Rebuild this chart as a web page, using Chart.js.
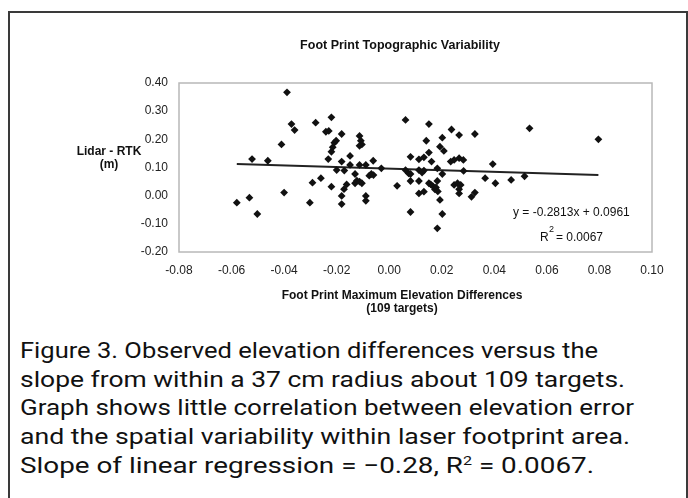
<!DOCTYPE html>
<html>
<head>
<meta charset="utf-8">
<script src="https://cdn.jsdelivr.net/npm/chart.js@4.4.0/dist/chart.umd.min.js"></script>
<style>
  html, body { margin: 0; padding: 0; background: #fff; }
  body { width: 688px; height: 498px; position: relative; overflow: hidden; }
  #frame { position: absolute; left: 8px; top: 11px; width: 676px; height: 500px; z-index: 5; pointer-events: none;
           border-left: 2px solid #3a3a3a; border-top: 2px solid #3a3a3a; border-right: 2px solid #3a3a3a; }
  #wrap { position: absolute; left: 0; top: 0; width: 688px; height: 330px; }
  #caption { position: absolute; left: 20px; top: 336px; font-family: "Liberation Sans Narrow", "Roboto", "Liberation Sans", sans-serif;
             font-size: 22.5px; color: #111; line-height: 28.7px; }
  #caption div { white-space: nowrap; transform-origin: 0 50%; display: block; width: max-content; }
</style>
</head>
<body>
<div id="frame"></div>
<div id="wrap"><canvas id="c" width="688" height="330"></canvas></div>
<div id="caption">
  <div>Figure 3. Observed elevation differences versus the</div>
  <div>slope from within a 37 cm radius about 109 targets.</div>
  <div>Graph shows little correlation between elevation error</div>
  <div>and the spatial variability within laser footprint area.</div>
  <div>Slope of linear regression = &minus;0.28, R<sup style="font-size:13px;line-height:0">2</sup> = 0.0067.</div>
</div>
<script>
// ---- data ----
const xValues = [
  -0.0580, -0.0532, -0.0502, -0.0522, -0.0462, -0.0410, -0.0400, -0.0389, -0.0372, -0.0360,
  -0.0302, -0.0292, -0.0280, -0.0260, -0.0241, -0.0230, -0.0232, -0.0220, -0.0220, -0.0220,
  -0.0215, -0.0209, -0.0202, -0.0200, -0.0181, -0.0181, -0.0181, -0.0181, -0.0172, -0.0171,
  -0.0162, -0.0149, -0.0149, -0.0130, -0.0130, -0.0123, -0.0113, -0.0104, -0.0113, -0.0108,
  -0.0104, -0.0113, -0.0113, -0.0089, -0.0089, -0.0089, -0.0076, -0.0068, -0.0060, -0.0061,
  -0.0030,
   0.0030,  0.0062,  0.0062,  0.0074,  0.0081,  0.0081,  0.0081,  0.0081,  0.0113,  0.0132,
   0.0151,  0.0113,  0.0132,  0.0125,  0.0113,  0.0113,  0.0132,  0.0151,  0.0158,  0.0166,
   0.0174,  0.0178,  0.0185,  0.0183,  0.0151,  0.0141,  0.0202,  0.0193,  0.0208,  0.0161,
   0.0183,  0.0202,  0.0193,  0.0202,  0.0183,  0.0237,  0.0266,  0.0326,  0.0534,  0.0796,
   0.0234,  0.0247,  0.0266,  0.0282,  0.0394,  0.0283,  0.0247,  0.0260,  0.0272,  0.0266,
   0.0266,  0.0326,  0.0313,  0.0365,  0.0404,  0.0464,  0.0515
];
const yValues = [
  -0.025, -0.007, -0.065,  0.130,  0.124,  0.182,  0.011,  0.367,  0.254,  0.233,
  -0.025,  0.046,  0.259,  0.062,  0.227,  0.230,  0.130,  0.278,  0.032,  0.156,
   0.172,  0.188,  0.195,  0.091,  0.219,  0.121, -0.001, -0.030,  0.023,  0.089,
   0.040,  0.141,  0.109,  0.077,  0.044,  0.053,  0.050,  0.044,  0.212,  0.195,
   0.182,  0.177,  0.109,  0.109, -0.001, -0.018,  0.071,  0.077,  0.073,  0.124,
   0.097,
   0.035,  0.269,  0.091,  0.079,  0.077,  0.138,  0.052, -0.058,  0.129,  0.136,
   0.153,  0.091,  0.089,  0.082,  0.052,  0.008,  0.014,  0.044,  0.040,  0.034,
   0.022,  0.029,  0.015,  0.052,  0.254,  0.195,  0.206,  0.174,  0.159,  0.121,
   0.097,  0.077, -0.015, -0.065, -0.116,  0.235,  0.215,  0.219,  0.239,  0.200,
   0.121,  0.127,  0.133,  0.127,  0.112,  0.088,  0.038,  0.044,  0.038,  0.023,
   0.008,  0.011, -0.004,  0.062,  0.044,  0.056,  0.069
];
const trendSlope = -0.2813;
const trendIntercept = 0.0961;
const rSquared = 0.0067;
const xTickRange = [-0.08, 0.10, 0.02];
const yTickRange = [-0.20, 0.40, 0.10];
const chartTitle = "Foot Print Topographic Variability";
const yTitle = ["Lidar - RTK", "(m)"];
const xTitle = ["Foot Print Maximum Elevation Differences", "(109 targets)"];

// ---- build datasets ----
const points = xValues.map((x, i) => ({ x: x, y: yValues[i] }));
const xMin = Math.min(...xValues), xMax = Math.max(...xValues);
const trend = [xMin, xMax].map(x => ({ x: x, y: trendSlope * x + trendIntercept }));

const FONT = '"Liberation Sans", Arial, sans-serif';

const decor = {
  id: 'decor',
  afterDraw(chart) {
    const ctx = chart.ctx, a = chart.chartArea;
    ctx.save();
    ctx.strokeStyle = '#b8b8b8';
    ctx.lineWidth = 1.5;
    ctx.strokeRect(a.left, a.top, a.right - a.left, a.bottom - a.top);
    ctx.fillStyle = '#111';
    ctx.textAlign = 'center';
    ctx.textBaseline = 'middle';
    ctx.font = 'bold 12.5px ' + FONT;
    ctx.fillText(chartTitle, 400, 46);
    ctx.font = 'bold 12px ' + FONT;
    ctx.fillText(yTitle[0], 109, 152);
    ctx.fillText(yTitle[1], 109, 165);
    ctx.fillText(xTitle[0], 402, 296);
    ctx.fillText(xTitle[1], 402, 309);
    ctx.font = '12px ' + FONT;
    ctx.textAlign = 'left';
    ctx.fillText('y = ' + trendSlope + 'x + ' + trendIntercept, 513, 213);
    ctx.fillText('R', 540, 238);
    ctx.fillText('= ' + rSquared.toFixed(4), 556, 238);
    ctx.font = '9px ' + FONT;
    ctx.fillText('2', 549, 230);
    ctx.restore();
  }
};

new Chart(document.getElementById('c'), {
  type: 'scatter',
  data: {
    datasets: [
      { data: points, backgroundColor: '#111', borderColor: '#111', pointStyle: 'rectRot',
        pointRadius: 3.9, borderWidth: 0, order: 1 },
      { type: 'line', data: trend, borderColor: '#222', borderWidth: 2, pointRadius: 0,
        fill: false, order: 2 }
    ]
  },
  options: {
    responsive: false,
    devicePixelRatio: 1,
    animation: false,
    layout: { padding: { left: 0, right: 36, top: 83, bottom: 38 } },
    plugins: { legend: { display: false }, tooltip: { enabled: false }, title: { display: false } },
    scales: {
      x: {
        type: 'linear', min: xTickRange[0], max: xTickRange[1],
        grid: { display: false, drawTicks: false }, border: { display: false },
        ticks: { stepSize: xTickRange[2], padding: 11, color: '#222', maxRotation: 0,
                 font: { family: FONT, size: 12 },
                 callback: v => v.toFixed(2) },
        afterFit: s => { s.height = 40; }
      },
      y: {
        type: 'linear', min: yTickRange[0], max: yTickRange[1],
        grid: { display: false, drawTicks: false }, border: { display: false },
        ticks: { stepSize: yTickRange[2], padding: 11, color: '#222',
                 font: { family: FONT, size: 12 },
                 callback: v => v.toFixed(2) },
        afterFit: s => { s.width = 179; }
      }
    }
  },
  plugins: [decor]
});

// fit each caption line to the width it has in the reference
const lineWidths = [578, 605, 614, 610, 574];
document.querySelectorAll('#caption div').forEach((l, i) => {
  const w = l.getBoundingClientRect().width;
  l.style.transform = 'scaleX(' + (lineWidths[i] / w) + ')';
});
</script>
</body>
</html>
